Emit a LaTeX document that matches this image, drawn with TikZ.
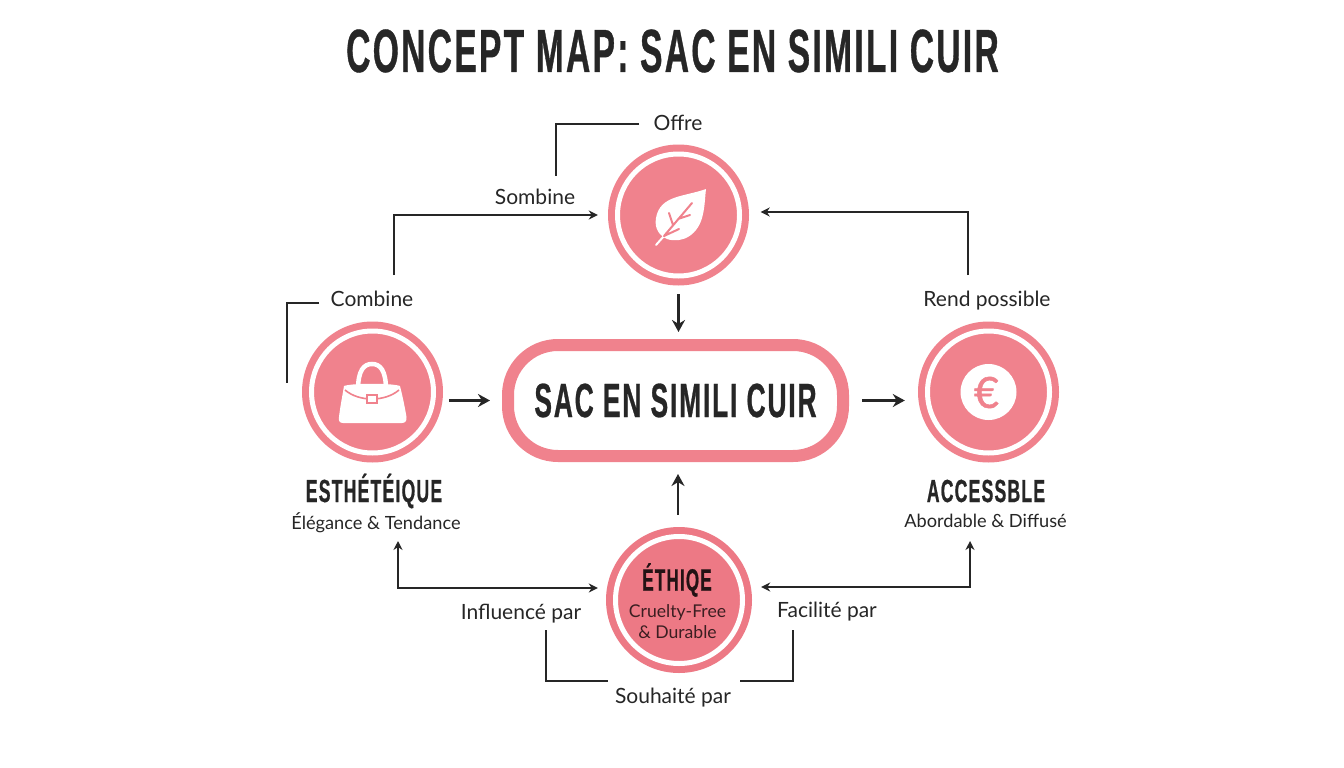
\documentclass[tikz,border=0pt]{standalone}
\usepackage{fontspec}
\usetikzlibrary{arrows.meta}
\setmainfont{Lato}
\newfontfamily\headfont[FakeStretch=0.55,LetterSpace=3.8,BoldFont={* Bold},BoldFeatures={FakeBold=0.6}]{Liberation Sans}
\newfontfamily\eurofont[FakeBold=1.2]{Lato}
\definecolor{rosefill}{HTML}{F0828D}
\definecolor{rosedeep}{HTML}{ED7985}
\definecolor{inkdark}{HTML}{262626}
\tikzset{
  hub/.style={circle,fill=rosefill,inner sep=0pt,minimum size=2*#1,
    path picture={\draw[white,line width=5pt] (path picture bounding box.center) circle ({#1-9.5});}},
  corebox/.style={draw=rosefill,fill=white,line width=12pt,rounded corners=50pt,
    minimum width=335pt,minimum height=111pt,inner sep=0pt,outer sep=6pt,text=inkdark},
  linktext/.style={text=inkdark,font=\fontsize{21}{24}\selectfont,inner sep=0pt,text height=15pt,text depth=4pt},
  subtext/.style={text=inkdark,font=\fontsize{18.2}{21}\selectfont,inner sep=0pt},
  headtext/.style={text=inkdark,font=\headfont\bfseries\fontsize{32}{34}\selectfont,inner sep=0pt},
  elbow/.style={draw=inkdark,line width=2.5pt},
  flow/.style={elbow,-{Stealth[length=9pt,width=9pt]}},
  twoway/.style={elbow,{Stealth[length=9pt,width=9pt]}-{Stealth[length=9pt,width=9pt]}},
  bigflow/.style={draw=inkdark,line width=2.8pt,-{Stealth[length=12pt,width=13pt]}}
}
\begin{document}
\begin{tikzpicture}[x=1pt,y=-1pt]
  \useasboundingbox (0,0) rectangle (1344,768);
  \fill[white] (0,0) rectangle (1344,768);
  \node (title) at (672.5,51) [text=inkdark,inner sep=0pt,font=\headfont\bfseries\fontsize{61}{63}\selectfont] {CONCEPT MAP: SAC EN SIMILI CUIR};
  \node[hub=70.5] (leaf) at (678.5,215) {};
  \node[hub=70.5] (bag) at (372.5,392) {};
  \node[hub=70.5] (euro) at (988.5,392) {};
  \node[hub=73,fill=rosedeep] (ethic) at (679,600) {};
  \node[corebox] (core) at (675.5,400.5) {\headfont\bfseries\fontsize{48}{53}\selectfont SAC EN SIMILI CUIR};
  \node[headtext] (estname) at (374,491) {ESTHÉTÉIQUE};
  \node[subtext] (estsub) at (376,523) {Élégance \& Tendance};
  \node[headtext] (accname) at (986,491) {ACCESSBLE};
  \node[subtext] (accsub) at (985.5,521) {Abordable \& Diffusé};
  \node[headtext,font=\headfont\bfseries\fontsize{31}{33}\selectfont,text=black!85!rosedeep] (ethname) at (677,580) {ÉTHIQE};
  \node[subtext,align=center,text=black!75!rosedeep,font=\fontsize{17.6}{21}\selectfont] (ethsub) at (677.5,622) {Cruelty-Free\\\& Durable};
  \node[linktext] (offre) at (678,124.5) {Offre};
  \node[linktext] (sombine) at (535,198.5) {Sombine};
  \node[linktext] (combine) at (372,300.5) {Combine};
  \node[linktext] (rend) at (987,300.5) {Rend possible};
  \node[linktext] (influ) at (521,614) {Influencé par};
  \node[linktext] (facil) at (827,612) {Facilité par};
  \node[linktext] (souhait) at (673,697.5) {Souhaité par};
  \coordinate (offreend) at (639,124);
  \coordinate (offrefoot) at (556,176);
  \coordinate (combend) at (319,303);
  \coordinate (combfoot) at (287,383);
  \coordinate (sombfoot) at (394,275);
  \coordinate (rendfoot) at (968,275);
  \coordinate (estfoot) at (398,541);
  \coordinate (accfoot) at (970,541);
  \coordinate (influfoot) at (546,630);
  \coordinate (facilfoot) at (793,630);
  \coordinate (souhleft) at (607.5,681);
  \coordinate (souhright) at (740,681);
  \begin{scope}[elbow]
    \draw (offreend) -| (offrefoot);
    \draw (combend) -| (combfoot);
    \draw (influfoot) |- (souhleft);
    \draw (souhright) -| (facilfoot);
  \end{scope}
  \begin{scope}[flow]
    \draw[shorten >=10pt] (sombfoot) |- (leaf.west);
    \draw[shorten >=11.5pt] (rendfoot) |- ([yshift=3pt]leaf.east);
  \end{scope}
  \begin{scope}[twoway]
    \draw[shorten >=8pt] (estfoot) |- ([yshift=12pt]ethic.west);
    \draw[shorten >=9pt] (accfoot) |- ([yshift=13pt]ethic.east);
  \end{scope}
  \begin{scope}[bigflow]
    \draw[shorten <=8.5pt,shorten >=7pt] (leaf.south) to (leaf.south |- core.north);
    \draw[shorten <=12pt,shorten >=12pt] (ethic.north -| 678,0) to (core.south -| 678,0);
    \draw[shorten <=6pt,shorten >=12pt] (core.west -| bag.east) to (core.west);
    \draw[shorten <=13pt,shorten >=13pt] (core.east) to (core.east -| euro.west);
  \end{scope}
  \fill[white] (706,189) .. controls (684,197) and (660,195) .. (656,218) .. controls (654,229) and (660,236) .. (667,239) .. controls (682,244) and (699,235) .. (703,214) .. controls (705,205) and (705,197) .. (706,189);
  \draw[white,line width=2pt,line cap=round] (656,245) -- (664,236);
  \draw[rosefill,line width=2pt,line cap=round] (664,236) -- (692,203) (673,225) -- (669,213) (678,219) -- (690,215) (664,236) -- (679,229);
  \draw[white,line width=4.5pt] (358,390) .. controls (358,370) and (364,364) .. (372,364) .. controls (380,364) and (386,370) .. (386,390);
  \fill[white] (344,386) .. controls (352,383) and (392,383) .. (400,386) .. controls (403,398) and (405,408) .. (406.5,417) .. controls (407,421) and (405,423) .. (402,423) -- (343,423) .. controls (340,423) and (338,421) .. (339,417) .. controls (340,408) and (342,398) .. (344,386) -- cycle;
  \draw[rosefill,line width=1.6pt] (345,390) .. controls (352,396) and (362,399) .. (372,399) .. controls (382,399) and (392,396) .. (399,390);
  \draw[rosefill,fill=white,line width=1.5pt] (367,395) rectangle (377,403);
  \fill[white] (988.5,392) circle (28);
  \node (eurosign) at (986.5,392.5) [text=rosefill,inner sep=0pt,font=\eurofont\fontsize{43}{45}\selectfont] {€};
\end{tikzpicture}
\end{document}
